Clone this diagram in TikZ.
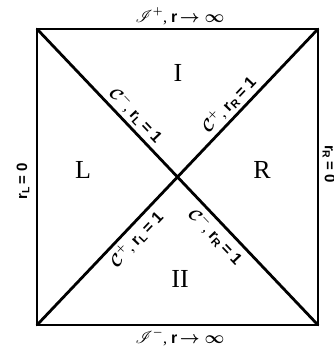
\documentclass[tikz,border=0pt]{standalone}
\usepackage{fontspec}
\setmainfont{Liberation Serif}
\setsansfont{Liberation Sans}
\usepackage{mathrsfs}
\usepackage{bm}
% bold sans radius with a subscript and its value
\newcommand{\rsub}[2]{\textsf{\textbf{r}}\textsubscript{\textsf{\textbf{#1}}}\,\textsf{\textbf{= #2}}}
\newcommand{\rinf}{\textsf{\textbf{r}}\,$\bm{\rightarrow\infty}$}

\begin{document}
\begin{tikzpicture}[x=1pt,y=1pt,line cap=round,line join=round,
  edge/.style={line width=2.8pt},
  region/.style={font=\fontsize{26}{26}\selectfont},
  horizon/.style={font=\fontsize{16}{16}\selectfont,sloped,inner sep=3pt},
  scri/.style={font=\fontsize{16}{16}\selectfont},
  origin/.style={font=\fontsize{15}{15}\selectfont}]
  \useasboundingbox (0,0) rectangle (333,349);
  \coordinate (tl) at (37,320);
  \coordinate (tr) at (318,320);
  \coordinate (br) at (318,24);
  \coordinate (bl) at (37,24);
  \draw[edge,line join=miter] (tl) -- (tr) -- (br) -- (bl) -- cycle;
  \draw[edge] (tl) -- (br)
    node[horizon,pos=0.32,above] {$\bm{\mathcal{C}}^{\bm{-}}$, \rsub{L}{1}}
    node[horizon,pos=0.67,below] {$\bm{\mathcal{C}}^{\bm{-}}$, \rsub{R}{1}};
  \draw[edge] (bl) -- (tr)
    node[horizon,pos=0.32,below] {$\bm{\mathcal{C}}^{\bm{+}}$, \rsub{L}{1}}
    node[horizon,pos=0.715,above] {$\bm{\mathcal{C}}^{\bm{+}}$, \rsub{R}{1}};
  \node[region] (up) at (178,276) {I};
  \node[region] (down) at (180,70) {II};
  \node[region] (left) at (83,179) {L};
  \node[region] (right) at (262,179) {R};
  \node[scri] (future) at (180,333) {$\bm{\mathscr{I}}^{\bm{+}}$, \rinf};
  \node[scri] (past) at (180,12) {$\bm{\mathscr{I}}^{\bm{-}}$, \rinf};
  \node[origin,rotate=90] (lzero) at (23,168) {\rsub{L}{0}};
  \node[origin,rotate=-90] (rzero) at (329,185) {\rsub{R}{0}};
\end{tikzpicture}
\end{document}
